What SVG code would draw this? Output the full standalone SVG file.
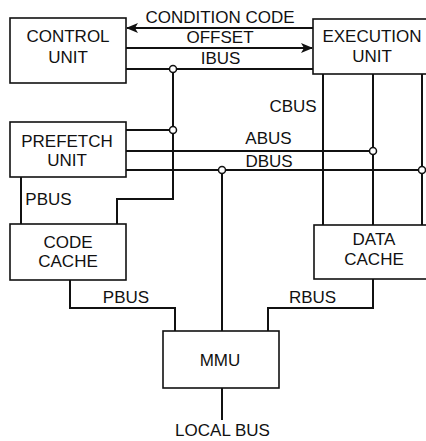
<svg xmlns="http://www.w3.org/2000/svg" width="426" height="441" viewBox="0 0 426 441">
<style>
.box{fill:#fff;stroke:#111;stroke-width:1.6}
.ln{fill:none;stroke:#111;stroke-width:2}
.dot{fill:#fff;stroke:#111;stroke-width:1.5}
text{font-family:"Liberation Sans",Arial,sans-serif;font-size:17px;fill:#111;text-anchor:middle}
</style>
<defs>
<marker id="ah" markerWidth="12" markerHeight="10" refX="11" refY="5" orient="auto" markerUnits="userSpaceOnUse">
<path d="M0,0 L12,5 L0,10 L3,5 Z" fill="#111"/>
</marker>
</defs>
<g id="connectors">
<line class="ln" x1="313" y1="28" x2="127" y2="28" marker-end="url(#ah)"/>
<line class="ln" x1="126" y1="48" x2="312" y2="48" marker-end="url(#ah)"/>
<line class="ln" x1="126" y1="69" x2="313" y2="69"/>
<polyline class="ln" points="173,69 173,199 117,199 117,224"/>
<line class="ln" x1="126" y1="130" x2="173" y2="130"/>
<line class="ln" x1="126" y1="151" x2="373" y2="151"/>
<line class="ln" x1="126" y1="170" x2="426" y2="170"/>
<line class="ln" x1="323" y1="74" x2="323" y2="225"/>
<line class="ln" x1="373" y1="74" x2="373" y2="225"/>
<line class="ln" x1="422" y1="74" x2="422" y2="225"/>
<line class="ln" x1="222" y1="170" x2="222" y2="331"/>
<line class="ln" x1="21" y1="177" x2="21" y2="224"/>
<polyline class="ln" points="70,280 70,308 175,308 175,331"/>
<polyline class="ln" points="373,279 373,308 268,308 268,331"/>
<line class="ln" x1="222" y1="388" x2="222" y2="420"/>
<circle class="dot" cx="173" cy="69" r="3.5"/>
<circle class="dot" cx="173" cy="130" r="3.5"/>
<circle class="dot" cx="373" cy="151" r="3.5"/>
<circle class="dot" cx="222" cy="170" r="3.5"/>
<circle class="dot" cx="422" cy="170" r="3.5"/>
<text x="220" y="23">CONDITION CODE</text>
<text x="220" y="43">OFFSET</text>
<text x="220.5" y="64">IBUS</text>
<text x="293" y="112">CBUS</text>
<text x="268.5" y="144">ABUS</text>
<text x="269" y="167">DBUS</text>
<text x="48.5" y="205">PBUS</text>
<text x="126" y="303">PBUS</text>
<text x="312.5" y="303">RBUS</text>
<text x="222.5" y="436">LOCAL BUS</text>
</g>
<g id="control-unit">
<rect class="box" x="10" y="18" width="116" height="65"/>
<text x="68" y="42">CONTROL</text>
<text x="68" y="63">UNIT</text>
</g>
<g id="execution-unit">
<rect class="box" x="313" y="19" width="130" height="55"/>
<text x="372" y="42">EXECUTION</text>
<text x="372" y="62">UNIT</text>
</g>
<g id="prefetch-unit">
<rect class="box" x="10" y="122" width="116" height="55"/>
<text x="67" y="147">PREFETCH</text>
<text x="67" y="166">UNIT</text>
</g>
<g id="code-cache">
<rect class="box" x="10" y="224" width="116" height="56"/>
<text x="68" y="248">CODE</text>
<text x="68" y="267">CACHE</text>
</g>
<g id="data-cache">
<rect class="box" x="314" y="225" width="130" height="54"/>
<text x="374" y="245">DATA</text>
<text x="374" y="265">CACHE</text>
</g>
<g id="mmu">
<rect class="box" x="163" y="331" width="116" height="57"/>
<text x="220" y="366">MMU</text>
</g>
</svg>
